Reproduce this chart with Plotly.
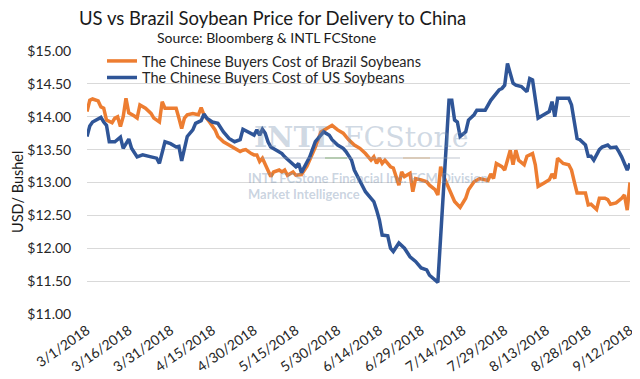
import plotly.graph_objects as go

# ---- data ----
brazil_dates = [
    "2018-03-01","2018-03-02","2018-03-03","2018-03-05","2018-03-06","2018-03-07","2018-03-08","2018-03-10",
    "2018-03-11","2018-03-12","2018-03-13","2018-03-14","2018-03-15","2018-03-16","2018-03-18","2018-03-19",
    "2018-03-20","2018-03-22","2018-03-24","2018-03-25","2018-03-27","2018-03-28","2018-03-29","2018-03-31",
    "2018-04-02","2018-04-03","2018-04-04","2018-04-05","2018-04-06","2018-04-08","2018-04-10","2018-04-11",
    "2018-04-12","2018-04-14","2018-04-16","2018-04-17","2018-04-19","2018-04-21","2018-04-23","2018-04-25",
    "2018-04-26","2018-04-27","2018-04-29","2018-04-30","2018-05-01","2018-05-02","2018-05-03","2018-05-04",
    "2018-05-06","2018-05-07","2018-05-09","2018-05-10","2018-05-11","2018-05-12","2018-05-14","2018-05-15",
    "2018-05-17","2018-05-19","2018-05-22","2018-05-24","2018-05-27","2018-05-28","2018-05-30","2018-06-01",
    "2018-06-03","2018-06-05","2018-06-07","2018-06-09","2018-06-11","2018-06-12","2018-06-13","2018-06-14",
    "2018-06-15","2018-06-16","2018-06-18","2018-06-19","2018-06-21","2018-06-22","2018-06-23","2018-06-25",
    "2018-06-26","2018-06-27","2018-06-29","2018-07-01","2018-07-02","2018-07-04","2018-07-05","2018-07-06",
    "2018-07-07","2018-07-09","2018-07-11","2018-07-13","2018-07-15","2018-07-16","2018-07-18","2018-07-20",
    "2018-07-22","2018-07-23","2018-07-24","2018-07-25","2018-07-26","2018-07-28","2018-07-29","2018-07-31",
    "2018-08-01","2018-08-02","2018-08-03","2018-08-05","2018-08-06","2018-08-08","2018-08-09","2018-08-10",
    "2018-08-12","2018-08-14","2018-08-15","2018-08-16","2018-08-17","2018-08-19","2018-08-21","2018-08-22",
    "2018-08-23","2018-08-24","2018-08-25","2018-08-27","2018-08-28","2018-08-29","2018-08-31","2018-09-01",
    "2018-09-03","2018-09-04","2018-09-05","2018-09-07","2018-09-09","2018-09-10","2018-09-11","2018-09-12",
]
brazil_values = [
    14.08,14.25,14.27,14.24,14.15,14.13,13.95,13.91,
    13.98,14.00,13.85,14.00,14.28,14.06,14.01,13.98,
    14.18,14.13,14.05,13.98,13.92,14.23,14.13,14.13,
    14.13,13.98,13.82,13.98,14.03,14.05,14.03,14.14,
    14.03,13.92,13.80,13.70,13.62,13.57,13.52,13.47,
    13.49,13.50,13.44,13.42,13.42,13.32,13.37,13.27,
    13.09,13.16,13.19,13.16,13.19,13.11,13.16,13.11,
    13.12,13.25,13.54,13.77,13.85,13.87,13.80,13.75,
    13.65,13.57,13.52,13.44,13.34,13.39,13.29,13.37,
    13.29,13.34,13.24,13.22,12.96,13.16,13.09,13.14,
    12.86,13.06,13.04,13.01,12.96,12.89,12.81,13.24,
    13.10,12.90,12.71,12.62,12.76,12.89,13.01,13.06,
    13.04,13.03,13.13,13.06,13.29,13.24,13.19,13.49,
    13.27,13.49,13.34,13.27,13.40,13.44,13.27,12.94,
    12.99,13.04,13.13,13.06,13.37,13.29,13.27,13.19,
    13.01,12.84,12.84,12.84,12.66,12.67,12.59,12.76,
    12.76,12.74,12.67,12.69,12.76,12.81,12.58,13.00,
]

us_dates = [
    "2018-03-01","2018-03-02","2018-03-03","2018-03-06","2018-03-07","2018-03-08","2018-03-09","2018-03-11",
    "2018-03-13","2018-03-14","2018-03-16","2018-03-17","2018-03-19","2018-03-21","2018-03-24","2018-03-26",
    "2018-03-27","2018-03-29","2018-03-31","2018-04-02","2018-04-03","2018-04-04","2018-04-06","2018-04-08",
    "2018-04-09","2018-04-11","2018-04-12","2018-04-13","2018-04-15","2018-04-17","2018-04-19","2018-04-21",
    "2018-04-23","2018-04-25","2018-04-26","2018-04-28","2018-04-30","2018-05-01","2018-05-02","2018-05-03",
    "2018-05-04","2018-05-05","2018-05-06","2018-05-08","2018-05-09","2018-05-10","2018-05-11","2018-05-13",
    "2018-05-15","2018-05-16","2018-05-17","2018-05-20","2018-05-22","2018-05-24","2018-05-25","2018-05-27",
    "2018-05-28","2018-05-30","2018-06-01","2018-06-02","2018-06-04","2018-06-05","2018-06-07","2018-06-09",
    "2018-06-11","2018-06-12","2018-06-13","2018-06-14","2018-06-15","2018-06-16","2018-06-17","2018-06-18",
    "2018-06-19","2018-06-21","2018-06-23","2018-06-25","2018-06-27","2018-06-29","2018-07-01","2018-07-02",
    "2018-07-05","2018-07-09","2018-07-10","2018-07-11","2018-07-12","2018-07-13","2018-07-15","2018-07-16",
    "2018-07-18","2018-07-19","2018-07-22","2018-07-24","2018-07-25","2018-07-27","2018-07-28","2018-07-29",
    "2018-07-30","2018-08-01","2018-08-02","2018-08-04","2018-08-06","2018-08-07","2018-08-08","2018-08-10",
    "2018-08-12","2018-08-14","2018-08-15","2018-08-16","2018-08-17","2018-08-19","2018-08-21","2018-08-22",
    "2018-08-24","2018-08-25","2018-08-27","2018-08-28","2018-08-29","2018-08-30","2018-09-01","2018-09-02",
    "2018-09-04","2018-09-05","2018-09-07","2018-09-08","2018-09-09","2018-09-11","2018-09-12",
]
us_values = [
    13.70,13.86,13.92,13.99,13.92,13.87,13.62,13.62,
    13.69,13.52,13.66,13.52,13.39,13.42,13.39,13.37,
    13.29,13.62,13.59,13.54,13.55,13.33,13.70,13.80,
    13.90,13.94,14.04,13.98,13.92,13.90,13.77,13.67,
    13.62,13.65,13.81,13.77,13.72,13.80,13.72,13.81,
    13.75,13.62,13.54,13.49,13.47,13.44,13.39,13.32,
    13.24,13.29,13.15,13.39,13.62,13.72,13.77,13.72,
    13.65,13.57,13.52,13.47,13.34,13.19,13.01,12.86,
    12.76,12.71,12.58,12.43,12.20,12.20,12.19,12.00,
    11.95,12.08,12.00,11.87,11.80,11.70,11.67,11.59,
    11.48,14.25,14.25,13.95,13.92,13.70,13.77,13.95,
    14.03,14.10,14.10,14.25,14.30,14.41,14.43,14.48,
    14.81,14.51,14.48,14.46,14.38,14.58,14.56,13.98,
    14.03,14.08,14.23,14.00,14.28,14.28,14.28,14.18,
    13.67,13.65,13.57,13.40,13.40,13.34,13.50,13.54,
    13.57,13.53,13.54,13.47,13.39,13.19,13.29,
]

tick_dates = ["2018-03-01","2018-03-16","2018-03-31","2018-04-15","2018-04-30","2018-05-15","2018-05-30",
              "2018-06-14","2018-06-29","2018-07-14","2018-07-29","2018-08-13","2018-08-28","2018-09-12"]
tick_labels = ["3/1/2018","3/16/2018","3/31/2018","4/15/2018","4/30/2018","5/15/2018","5/30/2018",
               "6/14/2018","6/29/2018","7/14/2018","7/29/2018","8/13/2018","8/28/2018","9/12/2018"]
y_ticks = [11.0, 11.5, 12.0, 12.5, 13.0, 13.5, 14.0, 14.5, 15.0]
y_tick_labels = ["&#36;11.00","&#36;11.50","&#36;12.00","&#36;12.50","&#36;13.00",
                 "&#36;13.50","&#36;14.00","&#36;14.50","&#36;15.00"]

series_names = ["The Chinese Buyers Cost of Brazil Soybeans", "The Chinese Buyers Cost of US Soybeans"]

# ---- layout constants (pixels, in page coordinates; page body has an 8px margin) ----
OFF = 8
W, H = 640 - OFF, 379 - OFF
PLOT_L, PLOT_R, PLOT_T, PLOT_B = 87, 630, 51, 314   # page pixel positions of the plot area
L = PLOT_L - OFF
T = PLOT_T - OFF
R = W - (PLOT_R - OFF)
B = H - (PLOT_B - OFF)
PW, PH = PLOT_R - PLOT_L, PLOT_B - PLOT_T
FONT = "Lato"

def px_x(x):
    return (x - PLOT_L) / PW

def px_y(y):
    return 1 - (y - PLOT_T) / PH

fig = go.Figure()
fig.add_trace(go.Scatter(x=brazil_dates, y=brazil_values, mode="lines", name=series_names[0],
                         line=dict(color="#ED7D31", width=3.5), legend="legend"))
fig.add_trace(go.Scatter(x=us_dates, y=us_values, mode="lines", name=series_names[1],
                         line=dict(color="#2F5597", width=3.5), legend="legend2"))

anns = []
for text, x, y, size in [("US vs Brazil Soybean Price for Delivery to China", 272, 18, 18.5),
                         ("Source: Bloomberg &amp; INTL FCStone", 266, 38, 14)]:
    anns.append(dict(text=text, xref="paper", yref="paper", x=px_x(x), y=px_y(y),
                     xanchor="center", yanchor="middle", showarrow=False,
                     font=dict(family=FONT, size=size, color="#1a1a1a")))
# y axis title
anns.append(dict(text="USD/ Bushel", xref="paper", yref="paper", x=px_x(17), y=px_y(192),
                 xanchor="center", yanchor="middle", textangle=-90, showarrow=False,
                 font=dict(family=FONT, size=14.5, color="#1a1a1a")))
# watermark
anns.append(dict(text="<b>INTL</b> FCStone", xref="paper", yref="paper", x=px_x(361), y=px_y(137),
                 xanchor="center", yanchor="middle", showarrow=False,
                 font=dict(family="DejaVu Serif", size=28.5, color="rgba(120,145,175,0.35)")))
anns.append(dict(text="<b>INTL FCStone Financial Inc. FCM Division</b>", xref="paper", yref="paper",
                 x=px_x(246), y=px_y(178), xanchor="left", yanchor="middle", showarrow=False,
                 font=dict(family=FONT, size=13, color="rgba(120,145,175,0.4)")))
anns.append(dict(text="<b>Market Intelligence</b>", xref="paper", yref="paper",
                 x=px_x(246), y=px_y(194), xanchor="left", yanchor="middle", showarrow=False,
                 font=dict(family=FONT, size=13, color="rgba(120,145,175,0.4)")))

shapes = [
    dict(type="line", xref="paper", yref="paper", x0=px_x(262), x1=px_x(460), y0=px_y(158), y1=px_y(158),
         line=dict(color="rgba(150,160,175,0.3)", width=2)),
    dict(type="line", xref="paper", yref="paper", x0=px_x(325), x1=px_x(347), y0=px_y(158), y1=px_y(158),
         line=dict(color="rgba(120,170,100,0.4)", width=2)),
    dict(type="line", xref="paper", yref="paper", x0=px_x(403), x1=px_x(430), y0=px_y(158), y1=px_y(158),
         line=dict(color="rgba(210,170,120,0.4)", width=2)),
]

legend_common = dict(xanchor="left", yanchor="middle", bgcolor="rgba(0,0,0,0)",
                     font=dict(family=FONT, size=14.5, color="#262626"), itemwidth=30)

fig.update_layout(
    width=W, height=H,
    margin=dict(l=L, r=R, t=T, b=B, autoexpand=False),
    paper_bgcolor="white", plot_bgcolor="white",
    font=dict(family=FONT, color="#262626"),
    showlegend=True,
    legend=dict(x=px_x(102), y=px_y(61), **legend_common),
    legend2=dict(x=px_x(102), y=px_y(77.5), **legend_common),
    annotations=anns,
    shapes=shapes,
    xaxis=dict(type="date", range=["2018-03-01", "2018-09-12"], tickvals=tick_dates, ticktext=tick_labels,
               tickangle=-35, showgrid=False, zeroline=False, showline=False, automargin=False,
               ticks="outside", ticklen=2, tickcolor="rgba(0,0,0,0)",
               tickfont=dict(family=FONT, size=14, color="#262626")),
    yaxis=dict(range=[11, 15], tickvals=y_ticks, ticktext=y_tick_labels, automargin=False,
               showgrid=True, gridcolor="#d9d9d9", gridwidth=1.3, zeroline=False, showline=False,
               ticks="outside", ticklen=12, tickcolor="rgba(0,0,0,0)",
               tickfont=dict(family=FONT, size=14, color="#262626")),
)

fig.write_html("out.html")
